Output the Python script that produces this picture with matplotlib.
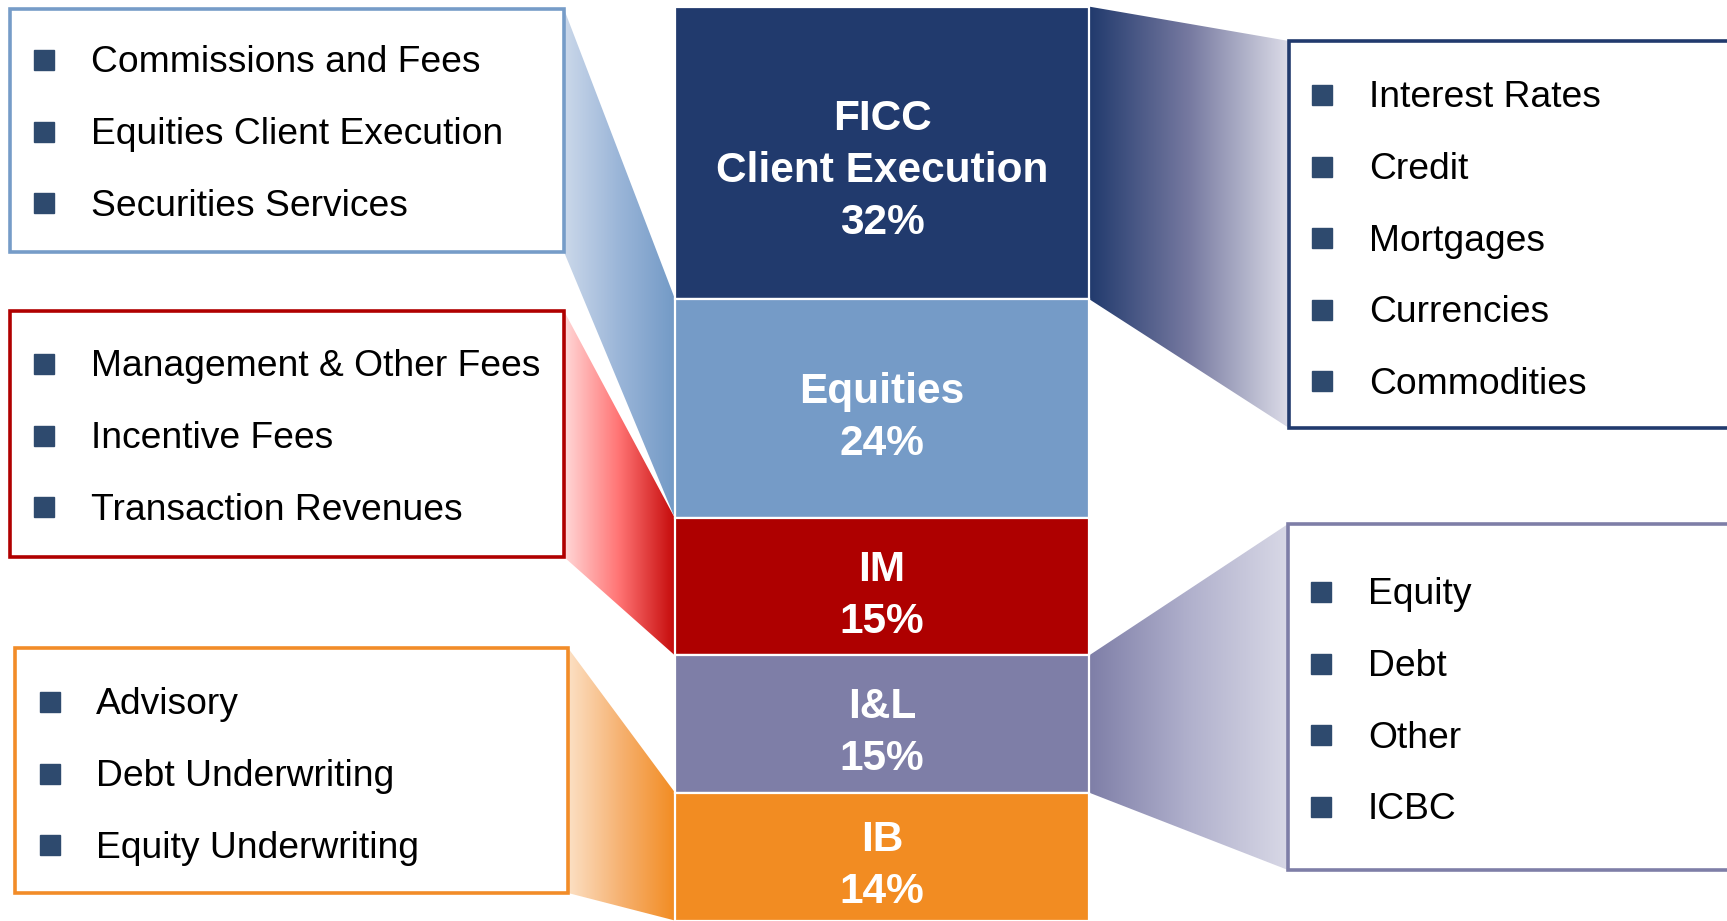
import numpy as np
import matplotlib.pyplot as plt
from matplotlib.patches import Polygon, Rectangle
from matplotlib.colors import LinearSegmentedColormap

plt.rcParams['font.family'] = ['Liberation Sans', 'DejaVu Sans']

# segments of the stacked column, top to bottom
segments = ["FICC\nClient Execution", "Equities", "IM", "I&L", "IB"]
shares = [32, 24, 15, 15, 14]
seg_colors = ["#213A6D", "#759BC7", "#AE0000", "#7E7EA7", "#F28C22"]

# callout box contents
ficc_items = ["Interest Rates", "Credit", "Mortgages", "Currencies", "Commodities"]
equities_items = ["Commissions and Fees", "Equities Client Execution", "Securities Services"]
im_items = ["Management & Other Fees", "Incentive Fees", "Transaction Revenues"]
il_items = ["Equity", "Debt", "Other", "ICBC"]
ib_items = ["Advisory", "Debt Underwriting", "Equity Underwriting"]

W, H = 1727, 921
YTOP, YBOT = 100.72, -0.05


def Y(px):
    """pixel row -> data y (percent units)"""
    return YTOP - px * (YTOP - YBOT) / H


fig = plt.figure(figsize=(W / 100, H / 100), dpi=100)
ax = fig.add_axes([0, 0, 1, 1])
ax.axis('off')

# column
col_x0, col_x1 = 675, 1089
bottoms = 100 - np.cumsum(shares)
tops = bottoms + np.array(shares)
ax.bar((col_x0 + col_x1) / 2, shares, bottom=bottoms, width=col_x1 - col_x0,
       color=seg_colors, edgecolor='white', linewidth=1.6, zorder=3)

for k, (name, s, b) in enumerate(zip(segments, shares, bottoms)):
    shift = 2.0 if k == 0 else 1.0
    ax.text((col_x0 + col_x1) / 2, b + s / 2 - shift, f"{name}\n{s}%", color='white',
            fontsize=30.5, fontweight='bold', ha='center', va='center',
            linespacing=1.38, zorder=4)


def gradient(pts, colors):
    poly = Polygon(pts, closed=True, facecolor='none', edgecolor='none')
    ax.add_patch(poly)
    xs = [p[0] for p in pts]
    ys = [p[1] for p in pts]
    cmap = LinearSegmentedColormap.from_list('g', colors)
    grad = np.linspace(0, 1, 256).reshape(1, -1)
    im = ax.imshow(grad, cmap=cmap, extent=(min(xs), max(xs), min(ys), max(ys)),
                   aspect='auto', origin='lower', zorder=1, interpolation='bilinear')
    im.set_clip_path(poly)


# (items, segment index, x0, x1, top px, bottom px, edge, first item px, bullet x, text x, grad colors)
boxes = [
    (equities_items, 1, 10, 564, 9, 252, "#769CC8", 60, 44, 91,
     ["#CBD8EA", "#9AB5D8", "#739AC6"]),
    (im_items, 2, 10, 564, 311, 557, "#B00000", 364, 44, 91,
     ["#FFD8D8", "#FF7373", "#C50A0A"]),
    (ib_items, 4, 15, 568, 648, 893, "#F28C28", 702, 50, 96,
     ["#FCE0C4", "#F6B170", "#F28C22"]),
    (ficc_items, 0, 1289, 1760, 41, 428, "#213A6D", 95, 1322, 1369,
     ["#213A6D", "#7679A0", "#DCDCE8"]),
    (il_items, 3, 1288, 1760, 524, 870, "#7E7EA7", 592, 1321, 1368,
     ["#7E7EA7", "#B0B0CC", "#D8D8E6"]),
]

step = 71.6
for items, idx, x0, x1, t, bt, edge, first, bx, tx, gcols in boxes:
    if x0 < col_x0:
        pts = [(x1, Y(t)), (col_x0, tops[idx]), (col_x0, bottoms[idx]), (x1, Y(bt))]
    else:
        pts = [(col_x1, tops[idx]), (x0, Y(t)), (x0, Y(bt)), (col_x1, bottoms[idx])]
    gradient(pts, gcols)
    ax.add_patch(Rectangle((x0, Y(bt)), x1 - x0, Y(t) - Y(bt), facecolor='white',
                           edgecolor=edge, linewidth=2.6, zorder=2))
    for i, item in enumerate(items):
        py = first + i * step
        ax.plot(bx, Y(py), marker='s', ms=14, color='#2E4A6E', zorder=4)
        ax.text(tx, Y(py + 3), item, fontsize=26.8, va='center', ha='left',
                color='black', zorder=4)

ax.set_xlim(0, W)
ax.set_ylim(YBOT, YTOP)
fig.savefig('out.png', dpi=100)
